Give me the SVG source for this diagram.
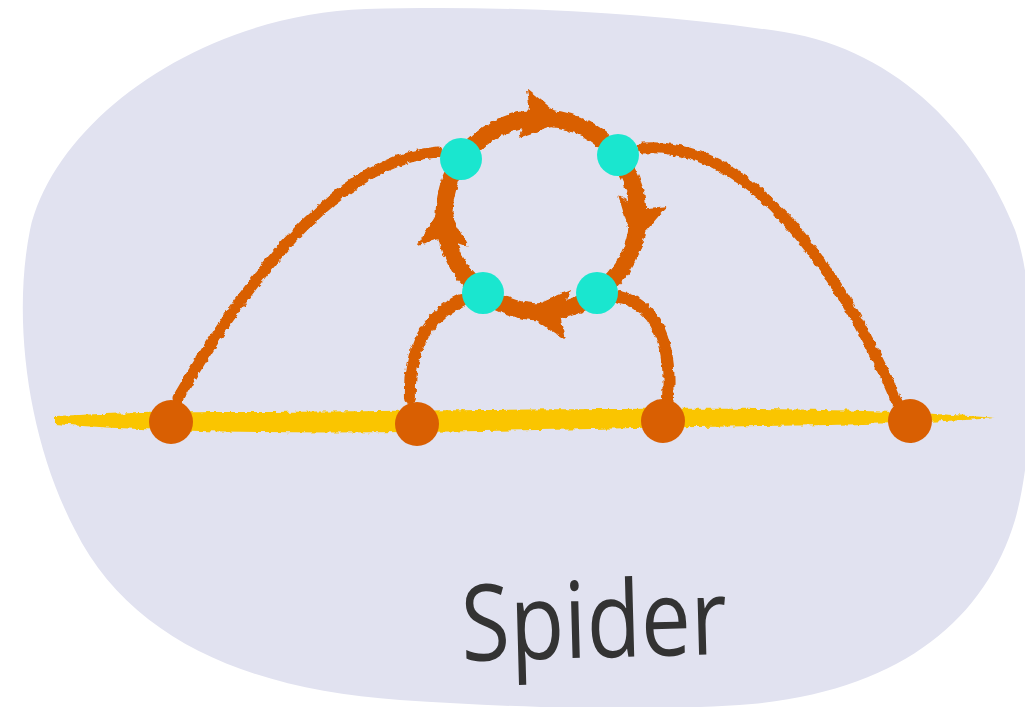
<svg xmlns="http://www.w3.org/2000/svg" width="1025" height="707" viewBox="0 0 1025 707">
  <style>
    .brush { fill: none; stroke: #D95F02; stroke-linecap: round; }
    .head { fill: #D95F02; }
    .base { fill: #D95F02; }
    .spider { fill: #1AE6CF; }
    .label { font-family: "Open Sans", "Noto Sans", sans-serif; font-weight: 400; font-size: 106px; fill: #333333; }
  </style>
  <defs>
    <!-- rough, dry-brush edge for painted strokes -->
    <filter id="rough" x="-10%" y="-10%" width="120%" height="120%">
      <feTurbulence type="fractalNoise" baseFrequency="0.18" numOctaves="2" seed="3" result="noise"/>
      <feDisplacementMap in="SourceGraphic" in2="noise" scale="5" xChannelSelector="R" yChannelSelector="G"/>
    </filter>
  </defs>

  <!-- background blob -->
  <path id="backdrop" fill="#E1E2F0" d="M366,9 C500,5 650,12 784,32 C900,50 980,140 1015,230 C1040,300 1035,450 1015,520 C985,620 900,690 752,704 C650,712 520,708 400,700 C250,690 130,640 75,530 C28,440 12,320 30,230 C55,120 200,15 366,9 Z"/>

  <!-- yellow base line -->
  <g id="baseline" filter="url(#rough)">
    <path fill="#FAC500" d="M55,416 C120,413 160,412 260,412 C400,411 600,408 760,409 C860,410 940,413 995,418 C940,422 860,425 760,426 C600,428 420,434 260,432 C160,431 110,428 55,424 Z"/>
  </g>

  <!-- connectors -->
  <g id="connectors" filter="url(#rough)">
    <!-- outer legs -->
    <path class="brush" stroke-width="11" d="M178,398 C235,300 330,160 438,152"/>
    <path class="brush" stroke-width="11" d="M643,148 C750,140 840,270 897,402"/>
    <!-- inner legs -->
    <path class="brush" stroke-width="12" d="M462,300 C430,315 408,345 410,398"/>
    <path class="brush" stroke-width="12" d="M620,297 C655,305 672,340 668,398"/>
    <!-- ring -->
    <circle class="brush" cx="541" cy="215" r="97" stroke-width="17"/>
    <!-- clockwise arrowheads on the ring -->
    <polygon class="head" points="8,0 -38,-25 -30,0 -38,25" transform="translate(560,120) rotate(10)"/>
    <polygon class="head" points="8,0 -38,-25 -30,0 -38,25" transform="translate(635,238) rotate(102)"/>
    <polygon class="head" points="8,0 -38,-25 -30,0 -38,25" transform="translate(530,311) rotate(186)"/>
    <polygon class="head" points="8,0 -38,-25 -30,0 -38,25" transform="translate(444,208) rotate(272)"/>
  </g>

  <!-- base nodes -->
  <g id="base-1"><circle class="base" cx="171" cy="422" r="22"/></g>
  <g id="base-2"><circle class="base" cx="417" cy="424" r="22"/></g>
  <g id="base-3"><circle class="base" cx="663" cy="421" r="22"/></g>
  <g id="base-4"><circle class="base" cx="910" cy="421" r="22"/></g>

  <!-- ring nodes -->
  <g id="ring-1"><circle class="spider" cx="461" cy="159" r="21"/></g>
  <g id="ring-2"><circle class="spider" cx="618" cy="155" r="21"/></g>
  <g id="ring-3"><circle class="spider" cx="597" cy="293" r="21"/></g>
  <g id="ring-4"><circle class="spider" cx="483" cy="293" r="21"/></g>

  <!-- title -->
  <g id="title">
    <text class="label" x="462" y="661" textLength="266" lengthAdjust="spacingAndGlyphs" transform="rotate(-1.5 462 661)">Spider</text>
  </g>
</svg>
